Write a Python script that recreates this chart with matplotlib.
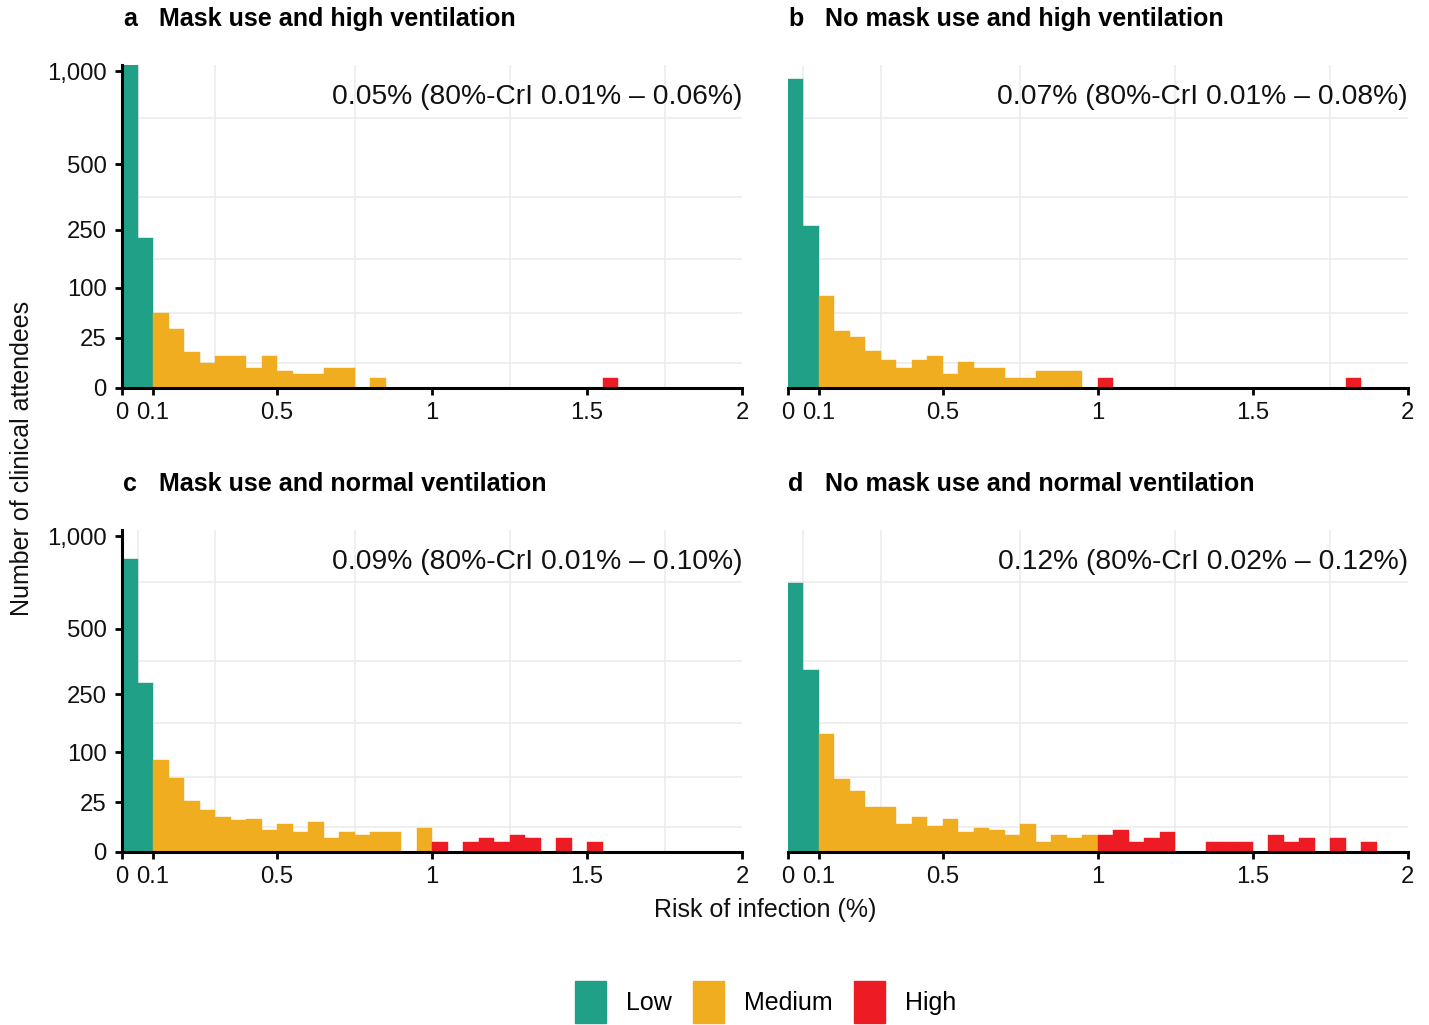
import numpy as np
import matplotlib
matplotlib.use('Agg')
import matplotlib.pyplot as plt
from matplotlib.patches import Patch

plt.rcParams['font.family'] = ['Liberation Sans', 'DejaVu Sans']

# histogram bins of 0.05 % from 0 to 2 %
bin_width = 0.05
bin_left = np.arange(40) * bin_width

# counts per bin
counts_a = [1040, 225, 56, 35, 13, 6, 10, 10, 4, 10, 3, 2, 2, 4, 4, 0, 1, 0, 0, 0,
            0, 0, 0, 0, 0, 0, 0, 0, 0, 0, 0, 1, 0, 0, 0, 0, 0, 0, 0, 0]
counts_b = [950, 263, 84, 32, 26, 14, 8, 4, 8, 10, 2, 7, 4, 4, 1, 1, 3, 3, 3, 0,
            1, 0, 0, 0, 0, 0, 0, 0, 0, 0, 0, 0, 0, 0, 0, 0, 1, 0, 0, 0]
counts_c = [860, 288, 84, 55, 26, 18, 12, 10, 11, 5, 8, 4, 9, 2, 4, 3, 4, 4, 0, 6,
            1, 0, 1, 2, 1, 3, 2, 0, 2, 0, 1, 0, 0, 0, 0, 0, 0, 0, 0, 0]
counts_d = [724, 334, 140, 53, 37, 20, 20, 8, 12, 7, 11, 4, 6, 5, 3, 8, 1, 3, 2, 3,
            3, 5, 1, 2, 4, 0, 0, 1, 1, 1, 0, 3, 1, 2, 0, 2, 0, 1, 0, 0]

panel_letters = ['a', 'b', 'c', 'd']
panel_titles = ['Mask use and high ventilation',
                'No mask use and high ventilation',
                'Mask use and normal ventilation',
                'No mask use and normal ventilation']
panel_notes = ['0.05% (80%-CrI 0.01% \u2013 0.06%)',
               '0.07% (80%-CrI 0.01% \u2013 0.08%)',
               '0.09% (80%-CrI 0.01% \u2013 0.10%)',
               '0.12% (80%-CrI 0.02% \u2013 0.12%)']

risk_levels = ['Low', 'Medium', 'High']
level_breaks = [0.1, 1.0]
level_colors = ['#21A088', '#EFAD1F', '#ED1C24']

x_ticks = [0, 0.1, 0.5, 1, 1.5, 2]
x_ticklabels = ['0', '0.1', '0.5', '1', '1.5', '2']
x_minor = [0.05, 0.3, 0.75, 1.25, 1.75]
y_ticks = [0, 25, 100, 250, 500, 1000]
y_ticklabels = ['0', '25', '100', '250', '500', '1,000']


def fwd(v):
    return np.sqrt(np.clip(v, 0, None))


def inv(v):
    return np.square(v)


sq = np.sqrt(y_ticks)
y_minor = list(((sq[:-1] + sq[1:]) / 2) ** 2)

all_counts = [counts_a, counts_b, counts_c, counts_d]
ymax = max(max(c) for c in all_counts)
levels = np.digitize(bin_left + 1e-9, level_breaks)

fig = plt.figure(figsize=(14.29, 10.25), dpi=100)
W, H = 1429, 1025
boxes = [(122, 65, 742, 388), (787.7, 65, 1407.7, 388),
         (122, 530, 742, 852), (787.7, 530, 1407.7, 852)]

for i, counts in enumerate(all_counts):
    x0, y0, x1, y1 = boxes[i]
    ax = fig.add_axes([x0 / W, 1 - y1 / H, (x1 - x0) / W, (y1 - y0) / H])
    ax.set_yscale('function', functions=(fwd, inv))
    ax.set_axisbelow(True)
    cols = [level_colors[l] for l in levels]
    ax.bar(bin_left, counts, width=bin_width, align='edge', color=cols,
           edgecolor=cols, linewidth=0.3, zorder=2)
    ax.set_xlim(0, 2)
    ax.set_ylim(0, ymax)

    ax.set_xticks(x_ticks)
    ax.set_xticklabels(x_ticklabels)
    ax.set_xticks(x_minor, minor=True)
    ax.set_yticks(y_ticks)
    ax.set_yticklabels(y_ticklabels)
    ax.set_yticks(y_minor, minor=True)
    ax.grid(False, which='major')
    ax.grid(True, which='minor', color='#EBEBEB', linewidth=1.1)
    ax.tick_params(which='minor', length=0)
    ax.tick_params(which='major', labelsize=17.2, width=2, length=5,
                   color='black', labelcolor='#111111')
    ax.tick_params(axis='x', pad=5)
    ax.tick_params(axis='y', pad=6)

    for s in ['top', 'right']:
        ax.spines[s].set_visible(False)
    ax.spines['bottom'].set_linewidth(2.2)
    ax.spines['left'].set_linewidth(2.2)
    ax.spines['bottom'].set_zorder(3)
    ax.spines['left'].set_zorder(3)
    if i % 2 == 1:
        ax.spines['left'].set_visible(False)
        ax.tick_params(axis='y', which='both', left=False, labelleft=False)

    ax.text(1.0, 0.9, panel_notes[i], transform=ax.transAxes, ha='right',
            va='center', fontsize=20.3, color='#111111')
    top_off = 1 + 46 / (y1 - y0)
    ax.text(0.013, top_off, panel_letters[i], transform=ax.transAxes,
            ha='center', va='center', fontsize=18, fontweight='bold')
    ax.text(0.0597, top_off, panel_titles[i], transform=ax.transAxes,
            ha='left', va='center', fontsize=18.1, fontweight='bold')

fig.text(765 / W, 1 - 910 / H, 'Risk of infection (%)', ha='center',
         va='center', fontsize=18, color='#111111')
fig.text(22 / W, 1 - 458 / H, 'Number of clinical attendees', ha='center',
         va='center', rotation=90, fontsize=18, color='#111111')

handles = [Patch(facecolor=c, edgecolor=c) for c in level_colors]
fig.legend(handles, risk_levels, loc='center', ncol=3, frameon=False,
           bbox_to_anchor=(766 / W, 1 - 1002 / H), fontsize=18,
           handlelength=1.24, handleheight=2.2, handletextpad=0.8,
           columnspacing=0.85, borderpad=0)

fig.savefig('out.png', dpi=100)
